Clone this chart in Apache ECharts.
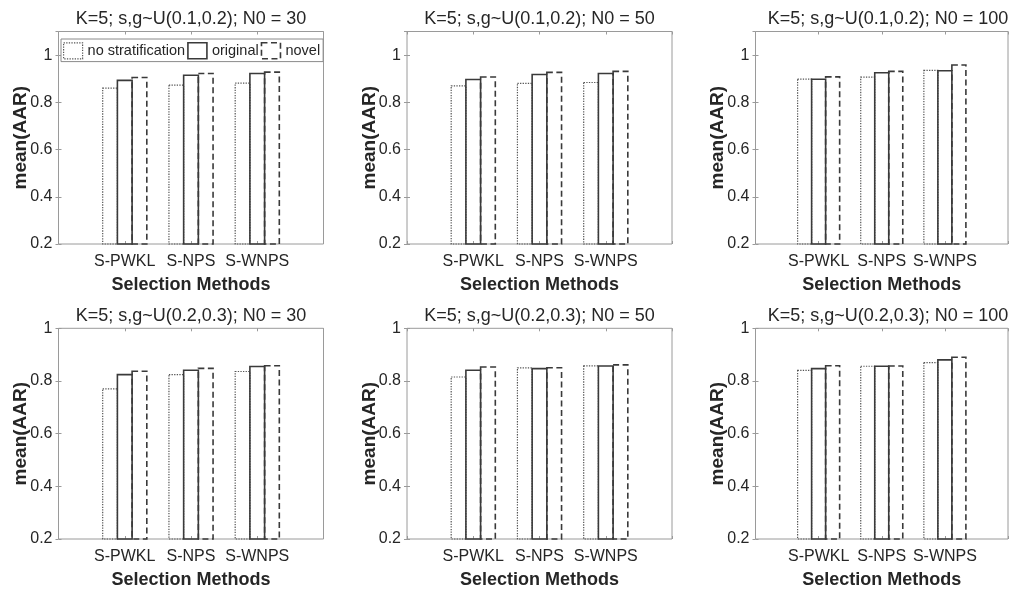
<!DOCTYPE html>
<html><head><meta charset="utf-8">
<script src="https://cdn.jsdelivr.net/npm/echarts@6/dist/echarts.min.js"></script>
<style>html,body{margin:0;padding:0;background:#fff}#c{width:1011px;height:590px}</style>
</head><body><div id="c"></div>
<script>
// ---------------- data ----------------
const categories = ['S-PWKL', 'S-NPS', 'S-WNPS'];
const seriesNames = ['no stratification', 'original', 'novel'];
const panelTitles = [
  'K=5; s,g~U(0.1,0.2); N0 = 30',
  'K=5; s,g~U(0.1,0.2); N0 = 50',
  'K=5; s,g~U(0.1,0.2); N0 = 100',
  'K=5; s,g~U(0.2,0.3); N0 = 30',
  'K=5; s,g~U(0.2,0.3); N0 = 50',
  'K=5; s,g~U(0.2,0.3); N0 = 100'
];
const xAxisTitle = 'Selection Methods';
const yAxisTitle = 'mean(AAR)';
const yTickValues = [0.2, 0.4, 0.6, 0.8, 1];
const yMin = 0.2;
const yMaxTopRow = 1.1;
const yMaxBottomRow = 1.0;

// U(0.1,0.2), N0 = 30
const u12n30_noStrat  = [0.860, 0.873, 0.881];
const u12n30_original = [0.893, 0.915, 0.922];
const u12n30_novel    = [0.905, 0.922, 0.928];
// U(0.1,0.2), N0 = 50
const u12n50_noStrat  = [0.870, 0.880, 0.884];
const u12n50_original = [0.897, 0.918, 0.922];
const u12n50_novel    = [0.907, 0.927, 0.931];
// U(0.1,0.2), N0 = 100
const u12n100_noStrat  = [0.898, 0.907, 0.935];
const u12n100_original = [0.898, 0.925, 0.934];
const u12n100_novel    = [0.908, 0.931, 0.958];
// U(0.2,0.3), N0 = 30
const u23n30_noStrat  = [0.770, 0.824, 0.836];
const u23n30_original = [0.824, 0.841, 0.855];
const u23n30_novel    = [0.837, 0.848, 0.858];
// U(0.2,0.3), N0 = 50
const u23n50_noStrat  = [0.815, 0.850, 0.857];
const u23n50_original = [0.841, 0.847, 0.857];
const u23n50_novel    = [0.853, 0.850, 0.861];
// U(0.2,0.3), N0 = 100
const u23n100_noStrat  = [0.840, 0.856, 0.870];
const u23n100_original = [0.847, 0.856, 0.880];
const u23n100_novel    = [0.858, 0.857, 0.890];

const panelData = [
  [u12n30_noStrat, u12n30_original, u12n30_novel],
  [u12n50_noStrat, u12n50_original, u12n50_novel],
  [u12n100_noStrat, u12n100_original, u12n100_novel],
  [u23n30_noStrat, u23n30_original, u23n30_novel],
  [u23n50_noStrat, u23n50_original, u23n50_novel],
  [u23n100_noStrat, u23n100_original, u23n100_novel]
];

// ---------------- style / layout ----------------
const FONT = '"Liberation Sans", Arial, Helvetica, sans-serif';
const TXT = '#262626';
const BOX = '#9a9a9a';
const colLeft = [58.5, 407, 755.5];
const gridW = 265;
const rowTop = [31.5, 328.3];
const rowH = [212.5, 211];
const barW = 0.222;
const barStyles = [
  { stroke: '#555555', lineWidth: 1.2, lineDash: [1.3, 1.3] },
  { stroke: '#3a3a3a', lineWidth: 1.6, lineDash: null },
  { stroke: '#3a3a3a', lineWidth: 1.6, lineDash: [6, 3.5] }
];
const legendStyles = [
  { color: '#fff', borderColor: '#555555', borderWidth: 1.2, borderType: [1.3, 1.3] },
  { color: '#fff', borderColor: '#3a3a3a', borderWidth: 1.6, borderType: 'solid' },
  { color: '#fff', borderColor: '#3a3a3a', borderWidth: 1.6, borderType: [6, 3.5] }
];

const grid = [], xAxis = [], yAxis = [], series = [], title = [];
for (let i = 0; i < 6; i++) {
  const row = Math.floor(i / 3), col = i % 3;
  const yMax = row === 0 ? yMaxTopRow : yMaxBottomRow;
  grid.push({ left: colLeft[col], top: rowTop[row], width: gridW, height: rowH[row],
    show: true, borderColor: BOX, borderWidth: 1, backgroundColor: '#fff' });
  title.push({ text: panelTitles[i], left: colLeft[col] + gridW / 2, top: rowTop[row] - 21,
    textAlign: 'center', padding: 0,
    textStyle: { fontFamily: FONT, fontSize: 18, fontWeight: 'normal', color: TXT } });
  // bottom x axis (labels + name)
  xAxis.push({ gridIndex: i, type: 'value', min: 0, max: 4, interval: 1, position: 'bottom',
    axisLine: { show: false }, splitLine: { show: false },
    axisTick: { show: true, inside: true, length: 3, lineStyle: { color: BOX } },
    axisLabel: { margin: 10, fontFamily: FONT, fontSize: 16, color: TXT,
      formatter: v => categories[v - 1] || '' },
    name: xAxisTitle, nameLocation: 'middle', nameGap: 32, nameMoveOverlap: false,
    nameTextStyle: { fontFamily: FONT, fontSize: 18, fontWeight: 'bold', color: TXT } });
  // top x axis (ticks only)
  xAxis.push({ gridIndex: i, type: 'value', min: 0, max: 4, interval: 1, position: 'top',
    axisLine: { show: false }, splitLine: { show: false }, axisLabel: { show: false },
    axisTick: { show: true, inside: true, length: 3, lineStyle: { color: BOX } } });
  // left y axis
  yAxis.push({ gridIndex: i, type: 'value', min: yMin, max: yMax, interval: 0.2, position: 'left',
    axisLine: { show: false }, splitLine: { show: false },
    axisTick: { show: true, inside: true, length: 3, lineStyle: { color: BOX } },
    axisLabel: { margin: 6, fontFamily: FONT, fontSize: 16, color: TXT, showMaxLabel: row === 1,
      formatter: v => yTickValues.some(t => Math.abs(t - v) < 1e-6) ? String(+v.toFixed(1)) : '' },
    name: yAxisTitle, nameLocation: 'middle', nameGap: 28, nameMoveOverlap: false,
    nameTextStyle: { fontFamily: FONT, fontSize: 19, fontWeight: 'bold', color: TXT } });
  // right y axis (ticks only)
  yAxis.push({ gridIndex: i, type: 'value', min: yMin, max: yMax, interval: 0.2, position: 'right',
    axisLine: { show: false }, splitLine: { show: false }, axisLabel: { show: false },
    axisTick: { show: true, inside: true, length: 3, lineStyle: { color: BOX } } });

  for (let s = 0; s < 3; s++) {
    const off = (s - 1) * barW;
    const st = barStyles[s];
    series.push({
      name: seriesNames[s], type: 'custom', xAxisIndex: 2 * i, yAxisIndex: 2 * i,
      z: 2 + s, clip: false,
      itemStyle: legendStyles[s],
      data: panelData[i][s].map((v, k) => [k + 1, v]),
      renderItem: (params, api) => {
        const xc = api.value(0), v = api.value(1);
        const p0 = api.coord([xc + off - barW / 2, yMin]);
        const p1 = api.coord([xc + off + barW / 2, v]);
        return { type: 'rect',
          shape: { x: p0[0], y: p1[1], width: p1[0] - p0[0], height: p0[1] - p1[1] },
          style: { fill: 'none', stroke: st.stroke, lineWidth: st.lineWidth, lineDash: st.lineDash } };
      }
    });
  }
}

const option = {
  animation: false,
  backgroundColor: '#fff',
  title, grid, xAxis, yAxis, series,
  legend: {
    left: 61, top: 39, orient: 'horizontal', icon: 'rect',
    itemWidth: 19, itemHeight: 16, itemGap: 2, padding: [3, 3, 2, 2],
    backgroundColor: '#fff', borderColor: '#8a8a8a', borderWidth: 1,
    selectedMode: false,
    textStyle: { fontFamily: FONT, fontSize: 14.5, color: TXT },
    data: seriesNames.map((n, s) => ({ name: n, icon: 'rect', itemStyle: legendStyles[s] }))
  }
};
const chart = echarts.init(document.getElementById('c'), null, { renderer: 'canvas' });
chart.setOption(option);
</script></body></html>
